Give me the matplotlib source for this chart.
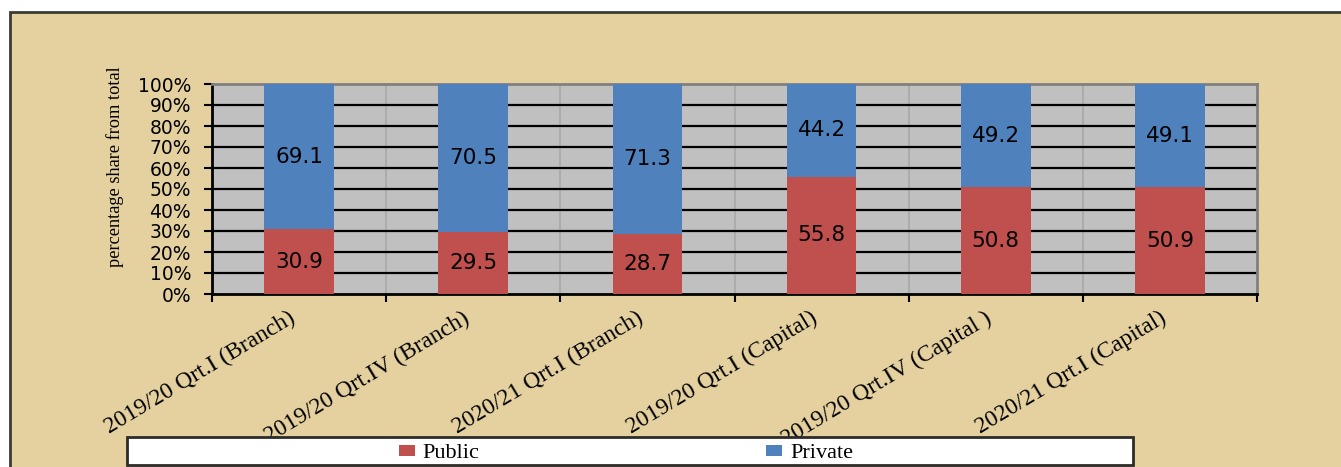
import numpy as np
import matplotlib
matplotlib.use("Agg")
import matplotlib.pyplot as plt
import matplotlib.transforms as mtransforms
from matplotlib.patches import Rectangle, Patch

# Shares of public vs private banks (percent of total)
categories = [
    "2019/20 Qrt.I (Branch)",
    "2019/20 Qrt.IV (Branch)",
    "2020/21 Qrt.I (Branch)",
    "2019/20 Qrt.I (Capital)",
    "2019/20 Qrt.IV (Capital )",
    "2020/21 Qrt.I (Capital)",
]
public = [30.9, 29.5, 28.7, 55.8, 50.8, 50.9]
private = [69.1, 70.5, 71.3, 44.2, 49.2, 49.1]
y_ticks = [0, 10, 20, 30, 40, 50, 60, 70, 80, 90, 100]
series_names = ["Public", "Private"]

W, H = 1341, 467
PUBLIC_C = "#C0504D"
PRIVATE_C = "#4F81BD"
PARCHMENT = "#E4D19F"
SERIF = "Liberation Serif"
SANS = "DejaVu Sans"


def fx(px):
    return px / W


def fy(py):
    return 1 - py / H


fig = plt.figure(figsize=(W / 100, H / 100), dpi=100)
fig.patch.set_facecolor("white")

# parchment-coloured chart area with a dark frame
fig.add_artist(Rectangle((fx(10), fy(480)), fx(1345) - fx(10), fy(12) - fy(480),
                         transform=fig.transFigure, facecolor=PARCHMENT,
                         edgecolor="#3b3a33", lw=2, zorder=-1))

ax = fig.add_axes([fx(212), fy(294), (1257 - 212) / W, (294 - 84) / H])
ax.set_facecolor("#C0C0C0")

x = np.arange(len(categories))
ax.bar(x, public, width=0.4, color=PUBLIC_C, zorder=3)
ax.bar(x, private, bottom=public, width=0.4, color=PRIVATE_C, zorder=3)

ax.set_xlim(-0.5, len(categories) - 0.5)
ax.set_ylim(0, 100)

# horizontal gridlines (black) and category separators (light grey)
for v in y_ticks[1:-1]:
    ax.axhline(v, color="black", lw=1.6, zorder=2)
for b in np.arange(0.5, len(categories) - 0.5, 1):
    ax.axvline(b, color="#A8A8A8", lw=1.2, zorder=1)

# value labels
for i in range(len(categories)):
    ax.text(x[i], public[i] / 2, f"{public[i]:.1f}", ha="center", va="center",
            fontsize=15.5, family=SANS, color="black", zorder=4)
    ax.text(x[i], public[i] + private[i] / 2, f"{private[i]:.1f}", ha="center",
            va="center", fontsize=15.5, family=SANS, color="black", zorder=4)

ax.set_yticks(y_ticks)
ax.set_yticklabels([f"{v}%" for v in y_ticks], family=SANS, fontsize=13.5)
ax.tick_params(axis="y", direction="out", length=6, width=1.5, color="black", pad=9)

ax.set_xticks(x)
ax.set_xticklabels(categories, rotation=31, ha="right", va="top",
                   rotation_mode="anchor", family=SERIF, fontsize=17)
ax.tick_params(axis="x", which="major", length=0, pad=10)
shift = mtransforms.ScaledTranslation(-11 / 100, 0, fig.dpi_scale_trans)
for lbl in ax.get_xticklabels():
    lbl.set_transform(lbl.get_transform() + shift)
ax.set_xticks(np.arange(-0.5, len(categories), 1), minor=True)
ax.tick_params(axis="x", which="minor", direction="out", length=6, width=1.5,
               color="black")

for side in ("left", "bottom"):
    ax.spines[side].set_color("black")
    ax.spines[side].set_linewidth(2)
for side in ("top", "right"):
    ax.spines[side].set_color("#808080")
    ax.spines[side].set_linewidth(2)

fig.text(fx(115), fy(167), "percentage share from total", rotation=90,
         ha="center", va="center", family=SERIF, fontsize=13.2)

# legend strip
fig.add_artist(Rectangle((fx(127), fy(465)), fx(1133) - fx(127), fy(437) - fy(465),
                         transform=fig.transFigure, facecolor="white",
                         edgecolor="#2d2c28", lw=2, zorder=1))
handles = [Patch(facecolor=PUBLIC_C, edgecolor="none"),
           Patch(facecolor=PRIVATE_C, edgecolor="none")]
leg = fig.legend(handles, series_names, loc="center left",
                 bbox_to_anchor=(fx(399), fy(454)), ncol=2, frameon=False,
                 borderpad=0, borderaxespad=0, handlelength=0.72,
                 handleheight=0.4, handletextpad=0.35, columnspacing=12.9,
                 prop={"family": SERIF, "size": 16})
leg.set_zorder(5)

fig.savefig("out.png", dpi=100)
